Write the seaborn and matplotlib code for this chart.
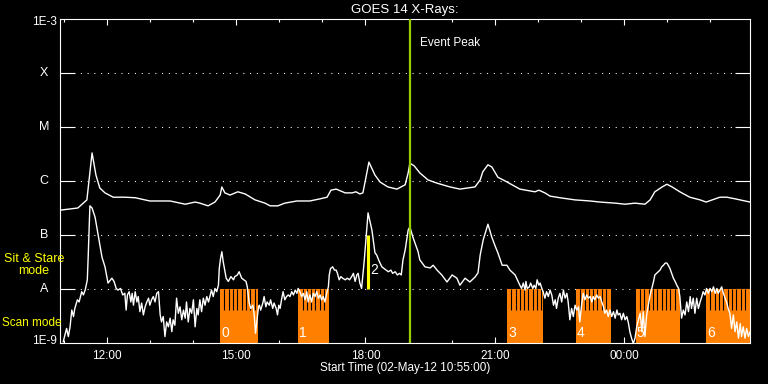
import numpy as np
import pandas as pd
import matplotlib
matplotlib.use("Agg")
import matplotlib.pyplot as plt
from matplotlib.ticker import NullLocator
import seaborn as sns

# ---- data (time: decimal hours of 02-May-2012, >24 = after midnight; flux as log10 W/m^2) ----
long_time = [10.92, 11.33, 11.54, 11.66, 11.75, 11.84, 11.96, 12.15, 12.42, 12.66, 13.00, 13.47,
             13.82, 14.05, 14.16, 14.35, 14.51, 14.63, 14.67, 14.74, 14.86, 15.04, 15.21, 15.44,
             15.67, 15.79, 15.97, 16.13, 16.41, 16.71, 16.95, 17.11, 17.20, 17.32, 17.53, 17.69,
             17.78, 17.87, 17.94, 17.99, 18.08, 18.22, 18.34, 18.52, 18.73, 18.92, 18.99, 19.03,
             19.13, 19.26, 19.45, 19.66, 19.96, 20.19, 20.54, 20.66, 20.72, 20.84, 20.93, 21.07,
             21.24, 21.58, 21.93, 22.02, 22.16, 22.28, 22.51, 22.86, 23.21, 23.44, 23.79, 24.02,
             24.25, 24.48, 24.60, 24.71, 24.88, 24.99, 25.11, 25.29, 25.52, 25.76, 25.90, 26.04,
             26.22, 26.38, 26.57, 26.80, 26.92]
long_logflux = [-6.54, -6.50, -6.35, -5.48, -5.89, -6.13, -6.22, -6.30, -6.30, -6.31, -6.37, -6.37,
                -6.43, -6.39, -6.41, -6.46, -6.39, -6.26, -6.11, -6.22, -6.26, -6.20, -6.24, -6.35,
                -6.41, -6.46, -6.46, -6.41, -6.37, -6.37, -6.33, -6.30, -6.17, -6.15, -6.22, -6.22,
                -6.20, -6.24, -6.22, -6.02, -5.65, -5.89, -6.02, -6.11, -6.15, -6.07, -5.85, -5.67,
                -5.72, -5.85, -5.98, -6.04, -6.11, -6.15, -6.11, -5.98, -5.83, -5.70, -5.74, -5.93,
                -6.00, -6.15, -6.20, -6.17, -6.22, -6.28, -6.31, -6.35, -6.37, -6.39, -6.41, -6.43,
                -6.41, -6.43, -6.35, -6.20, -6.11, -6.06, -6.11, -6.20, -6.30, -6.35, -6.39, -6.35,
                -6.30, -6.30, -6.33, -6.37, -6.39]

short_time = [
    10.99, 11.07, 11.11, 11.15, 11.19, 11.23, 11.26, 11.32, 11.36, 11.42,
    11.46, 11.50, 11.55, 11.57, 11.61, 11.66, 11.73, 11.82, 11.89, 11.96,
    12.03, 12.12, 12.17, 12.22, 12.26, 12.32, 12.37, 12.42, 12.45, 12.48,
    12.52, 12.56, 12.59, 12.62, 12.66, 12.70, 12.73, 12.77, 12.81, 12.85,
    12.89, 12.93, 12.97, 13.00, 13.04, 13.08, 13.12, 13.16, 13.20, 13.24,
    13.27, 13.31, 13.35, 13.39, 13.43, 13.47, 13.51, 13.54, 13.58, 13.62,
    13.66, 13.70, 13.74, 13.78, 13.82, 13.85, 13.89, 13.93, 13.97, 14.01,
    14.05, 14.09, 14.12, 14.16, 14.20, 14.24, 14.28, 14.32, 14.36, 14.40,
    14.43, 14.47, 14.51, 14.55, 14.59, 14.61, 14.64, 14.67, 14.70, 14.77,
    14.82, 14.88, 14.94, 14.97, 15.03, 15.07, 15.13, 15.18, 15.23, 15.26,
    15.30, 15.34, 15.39, 15.42, 15.45, 15.48, 15.52, 15.54, 15.57, 15.62,
    15.65, 15.69, 15.72, 15.77, 15.80, 15.85, 15.88, 15.93, 15.96, 15.99,
    16.02, 16.06, 16.09, 16.13, 16.17, 16.21, 16.25, 16.29, 16.33, 16.37,
    16.41, 16.44, 16.48, 16.52, 16.56, 16.60, 16.64, 16.67, 16.71, 16.75,
    16.79, 16.83, 16.87, 16.91, 16.95, 16.98, 17.02, 17.06, 17.10, 17.14,
    17.16, 17.19, 17.24, 17.28, 17.32, 17.35, 17.39, 17.43, 17.47, 17.53,
    17.58, 17.63, 17.68, 17.72, 17.76, 17.80, 17.83, 17.87, 17.91, 17.94,
    17.97, 18.06, 18.15, 18.22, 18.26, 18.32, 18.38, 18.43, 18.48, 18.53,
    18.59, 18.63, 18.69, 18.74, 18.79, 18.83, 18.87, 18.92, 18.99, 19.03,
    19.10, 19.22, 19.26, 19.38, 19.50, 19.57, 19.66, 19.77, 19.89, 20.01,
    20.12, 20.19, 20.31, 20.42, 20.54, 20.61, 20.66, 20.73, 20.84, 20.93,
    21.00, 21.07, 21.17, 21.28, 21.35, 21.47, 21.58, 21.62, 21.66, 21.70,
    21.72, 21.75, 21.80, 21.83, 21.88, 21.91, 21.95, 21.98, 22.02, 22.05,
    22.09, 22.12, 22.16, 22.20, 22.24, 22.28, 22.32, 22.36, 22.40, 22.43,
    22.47, 22.51, 22.55, 22.59, 22.63, 22.67, 22.70, 22.74, 22.78, 22.82,
    22.86, 22.90, 22.94, 22.97, 23.01, 23.05, 23.09, 23.13, 23.17, 23.21,
    23.25, 23.28, 23.32, 23.36, 23.40, 23.44, 23.48, 23.52, 23.55, 23.59,
    23.63, 23.67, 23.71, 23.75, 23.79, 23.83, 23.86, 23.90, 23.94, 23.98,
    24.02, 24.06, 24.10, 24.13, 24.17, 24.21, 24.25, 24.29, 24.33, 24.37,
    24.41, 24.44, 24.48, 24.52, 24.56, 24.60, 24.64, 24.68, 24.71, 24.75,
    24.79, 24.83, 24.87, 24.91, 24.95, 24.99, 25.02, 25.06, 25.10, 25.14,
    25.18, 25.22, 25.26, 25.29, 25.33, 25.37, 25.41, 25.45, 25.49, 25.53,
    25.56, 25.60, 25.64, 25.68, 25.72, 25.76, 25.80, 25.83, 25.87, 25.91,
    25.95, 25.99, 26.03, 26.07, 26.11, 26.15, 26.18, 26.22, 26.26, 26.30,
    26.34, 26.38, 26.41, 26.45, 26.49, 26.53, 26.57, 26.61, 26.65, 26.69,
    26.72, 26.76, 26.80, 26.84, 26.88, 26.92]
short_logflux = [
    -8.98, -8.73, -8.88, -8.70, -8.39, -8.51, -8.36, -8.20, -8.24, -8.05,
    -8.11, -8.02, -7.83, -7.41, -6.46, -6.50, -6.67, -7.09, -7.41, -7.59,
    -7.89, -7.80, -7.86, -7.99, -8.02, -7.99, -8.11, -8.08, -8.39, -8.11,
    -8.05, -8.24, -8.08, -8.30, -8.05, -8.24, -8.14, -8.42, -8.26, -8.48,
    -8.33, -8.24, -8.17, -8.30, -8.20, -8.14, -8.24, -8.08, -8.05, -8.48,
    -8.61, -8.51, -8.88, -8.61, -8.70, -8.54, -8.79, -8.57, -8.67, -8.17,
    -8.45, -8.33, -8.57, -8.39, -8.54, -8.24, -8.61, -8.36, -8.45, -8.20,
    -8.70, -8.36, -8.48, -8.20, -8.42, -8.17, -8.30, -8.14, -8.24, -8.11,
    -8.02, -8.14, -7.99, -8.05, -7.93, -7.62, -7.43, -7.31, -7.49, -7.80,
    -7.86, -7.77, -7.83, -7.77, -7.74, -7.68, -7.80, -7.83, -7.86, -7.96,
    -8.24, -8.36, -8.30, -8.48, -8.82, -8.61, -8.33, -8.30, -8.39, -8.26,
    -8.14, -8.33, -8.24, -8.30, -8.20, -8.36, -8.26, -8.36, -8.48, -8.30,
    -8.36, -8.17, -8.05, -8.20, -8.14, -8.11, -8.14, -8.05, -8.11, -8.02,
    -8.08, -7.99, -8.05, -8.14, -8.08, -8.20, -8.05, -8.24, -8.11, -8.24,
    -8.08, -8.14, -8.05, -8.17, -8.11, -8.20, -8.14, -8.24, -8.08, -7.96,
    -7.74, -7.62, -7.59, -7.65, -7.65, -7.71, -7.83, -7.77, -7.80, -7.83,
    -7.80, -7.83, -7.77, -7.71, -7.86, -7.74, -7.71, -7.89, -7.99, -7.74,
    -7.49, -6.59, -6.91, -7.33, -7.37, -7.49, -7.59, -7.62, -7.65, -7.68,
    -7.65, -7.71, -7.68, -7.74, -7.71, -7.74, -7.46, -7.28, -6.91, -6.85,
    -7.04, -7.31, -7.46, -7.59, -7.61, -7.56, -7.65, -7.74, -7.87, -7.74,
    -7.80, -7.93, -7.80, -7.87, -7.78, -7.70, -7.37, -7.09, -6.80, -7.04,
    -7.19, -7.33, -7.56, -7.56, -7.65, -7.74, -7.93, -7.99, -7.89, -8.02,
    -7.86, -7.99, -7.96, -7.89, -7.99, -7.93, -7.99, -7.83, -7.93, -7.89,
    -7.99, -8.05, -8.17, -8.05, -8.14, -8.02, -8.11, -8.30, -8.20, -8.36,
    -8.17, -8.08, -8.24, -8.02, -8.17, -8.08, -8.24, -8.57, -8.36, -8.51,
    -8.30, -8.39, -8.33, -8.61, -8.30, -8.08, -8.20, -8.11, -8.17, -8.14,
    -8.24, -8.14, -8.20, -8.11, -8.17, -8.14, -8.24, -8.33, -8.45, -8.39,
    -8.51, -8.39, -8.51, -8.42, -8.54, -8.39, -8.48, -8.45, -8.57, -8.45,
    -8.57, -8.51, -8.64, -8.79, -8.91, -9.01, -8.91, -8.70, -8.57, -8.45,
    -8.79, -8.42, -8.88, -8.48, -8.30, -8.11, -7.99, -7.86, -7.74, -7.71,
    -7.68, -7.65, -7.59, -7.56, -7.52, -7.52, -7.56, -7.62, -7.71, -7.80,
    -7.86, -7.93, -7.99, -8.14, -8.54, -8.39, -8.48, -8.24, -8.42, -8.14,
    -8.36, -8.17, -8.45, -8.17, -8.36, -8.24, -8.14, -8.05, -8.11, -7.99,
    -8.08, -7.99, -8.05, -7.96, -8.08, -7.99, -8.08, -8.02, -7.96, -8.08,
    -8.17, -8.26, -8.36, -8.45, -8.73, -8.48, -8.79, -8.61, -8.91, -8.64,
    -8.88, -8.70, -8.91, -8.73, -8.88, -8.79]

scan_start = [14.63, 16.44, 21.28, 22.88, 24.27, 25.90]
scan_end = [15.51, 17.15, 22.12, 23.69, 25.29, 26.92]
scan_labels = ["0", "1", "3", "4", "5", "6"]
sit_stare_time = [18.06]
sit_stare_labels = ["2"]
event_peak_time = 19.03
x_range = [10 + 55 / 60, 26 + 55 / 60]
x_major = [12, 15, 18, 21, 24]
x_major_labels = ["12:00", "15:00", "18:00", "21:00", "00:00"]
x_minor = list(range(11, 27))
y_levels = [1e-9, 1e-8, 1e-7, 1e-6, 1e-5, 1e-4, 1e-3]
y_labels = ["1E-9", "A", "B", "C", "M", "X", "1E-3"]
scan_solid_top_log = -8.39

# ---- style ----
sns.set_theme(style="dark", rc={"axes.facecolor": "black", "figure.facecolor": "black"})
plt.rcParams["font.family"] = ["Liberation Sans", "DejaVu Sans"]
ORANGE = "#ff8000"
YELLOW = "#ffff00"
GREEN = "#99cc00"

fig = plt.figure(figsize=(7.68, 3.84), dpi=100, facecolor="black")
ax = fig.add_axes([60 / 768, 41 / 384, 690 / 768, 324 / 384])
ax.set_facecolor("black")
ax.set_yscale("log")
ax.set_xlim(*x_range)
ax.set_ylim(y_levels[0], y_levels[-1])

# dotted level lines
for lv in y_levels[1:-1]:
    ax.axhline(lv, color="white", lw=0.75, ls=(0, (1, 5.5)), zorder=1)

# scan-mode blocks
solid_top = 10.0 ** scan_solid_top_log
for s, e, lab in zip(scan_start, scan_end, scan_labels):
    ax.fill_between([s, e], y_levels[0], y_levels[1], color=ORANGE, lw=0, zorder=2)
    ax.vlines(np.arange(s + 0.1, e - 0.03, 0.1), solid_top, y_levels[1],
              color="black", lw=0.8, zorder=3)
    ax.annotate(lab, xy=(s, 10 ** -8.81), xytext=(1, 0), textcoords="offset pixels",
                ha="left", va="center", color="white", fontsize=10, zorder=7)

# GOES curves
df_long = pd.DataFrame({"time": long_time, "flux": 10.0 ** np.array(long_logflux)})
df_short = pd.DataFrame({"time": short_time, "flux": 10.0 ** np.array(short_logflux)})
sns.lineplot(data=df_long, x="time", y="flux", ax=ax, color="white", lw=1.0, zorder=4)
sns.lineplot(data=df_short, x="time", y="flux", ax=ax, color="white", lw=1.0, zorder=4)

# sit & stare marks
for t, lab in zip(sit_stare_time, sit_stare_labels):
    ax.vlines(t, y_levels[1], y_levels[2], color=YELLOW, lw=2.2, zorder=6)
    ax.annotate(lab, xy=(t, 10 ** -7.65), xytext=(2, 0), textcoords="offset pixels",
                ha="left", va="center", color="white", fontsize=10, zorder=7)

# event peak
ax.axvline(event_peak_time, color=GREEN, lw=1.6, zorder=6)
ax.annotate("Event Peak", xy=(event_peak_time, 10 ** -3.44), xytext=(10, 0),
            textcoords="offset pixels", ha="left", va="center", color="white", fontsize=8.5)

# axes styling
for sp in ax.spines.values():
    sp.set_color("white")
    sp.set_linewidth(0.8)
    sp.set_visible(True)
ax.set_xticks(x_major)
ax.set_xticklabels(x_major_labels)
ax.set_xticks(x_minor, minor=True)
ax.tick_params(axis="x", which="both", direction="in", top=True, bottom=True,
               colors="white", labelsize=8.5, pad=5, width=0.8)
ax.tick_params(axis="x", which="major", length=4.3)
ax.tick_params(axis="x", which="minor", length=2.5)
ax.set_yticks(y_levels[1:-1])
ax.yaxis.set_minor_locator(NullLocator())
ax.tick_params(axis="y", which="major", direction="in", left=True, right=True,
               length=10.8, width=0.8, colors="white", labelleft=False)
ax.set_xlabel("")
ax.set_ylabel("")
ax.grid(False)

ytr = ax.get_yaxis_transform()
for lv, lab in zip(y_levels, y_labels):
    if lab.startswith("1E"):
        dy = -3 if lv == y_levels[-1] else 2
        ax.annotate(lab, xy=(0, lv), xycoords=ytr, xytext=(-3, dy), textcoords="offset pixels",
                    ha="right", va="center", color="white", fontsize=8.5, annotation_clip=False)
    else:
        ax.annotate(lab, xy=(0, lv), xycoords=ytr, xytext=(-16, 0), textcoords="offset pixels",
                    ha="center", va="center", color="white", fontsize=9, annotation_clip=False)

fig.text(405 / 768, 1 - 10 / 384, "GOES 14 X-Rays:", ha="center", va="center",
         color="white", fontsize=9.5)
fig.text(405 / 768, 1 - 368 / 384, "Start Time (02-May-12 10:55:00)", ha="center",
         va="center", color="white", fontsize=8.5)
fig.text(34 / 768, 1 - 265.5 / 384, "Sit & Stare\nmode", ha="center", va="center",
         color=YELLOW, fontsize=9, linespacing=1.0)
fig.text(2 / 768, 1 - 323 / 384, "Scan mode", ha="left", va="center",
         color=YELLOW, fontsize=8.5)

fig.savefig("out.png", dpi=100, facecolor="black")
